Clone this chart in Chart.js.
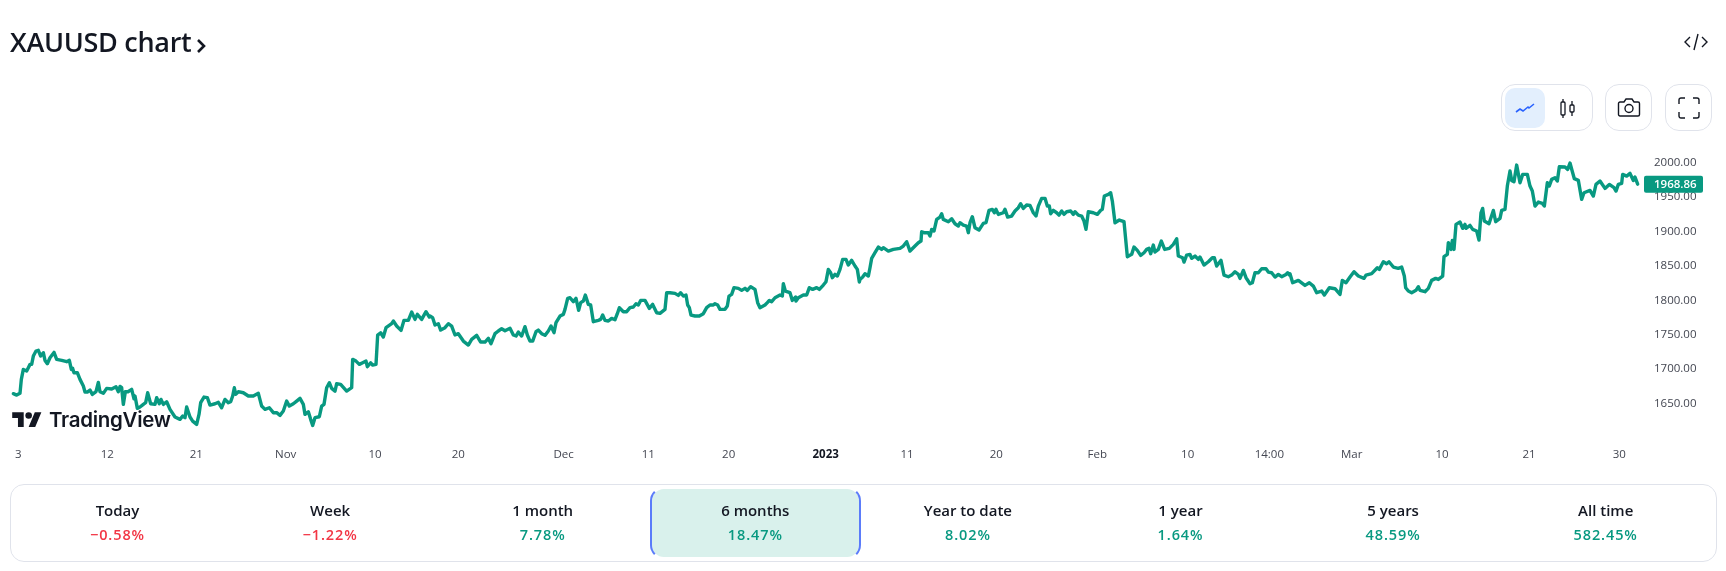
<!DOCTYPE html>
<html lang="en">
<head>
<meta charset="utf-8">
<title>XAUUSD chart</title>
<script src="https://cdn.jsdelivr.net/npm/chart.js@4/dist/chart.umd.min.js"></script>
<style>
  html, body { margin: 0; padding: 0; background: #fff; }
  body { position: relative; width: 1726px; height: 571px; overflow: hidden; font-family: 'Open Sans', sans-serif; color: #131722; }
  #chart { position: absolute; left: 0; top: 0; }
  .title { position: absolute; left: 10px; top: 23px; font-size: 27px; line-height: 38px; font-weight: 600; letter-spacing: -.3px; white-space: nowrap; }
  .chev { position: absolute; left: 195px; top: 37px; }
  .embed { position: absolute; left: 1684px; top: 32px; }
  .btn { position: absolute; top: 84px; height: 45px; box-sizing: content-box; border: 1px solid #e0e3eb; border-radius: 14px; }
  .btn svg { position: absolute; }
  .on { position: absolute; left: 3px; top: 3px; width: 40px; height: 40px; border-radius: 10px; background: #e3effd; }
  .logo { position: absolute; left: 12px; top: 409px; white-space: nowrap; }
  .logo svg { position: absolute; left: 0; top: 0; }
  .logo span { position: absolute; left: 37px; top: -3px; font-family: Inter, sans-serif; font-weight: 600; font-size: 20.5px; line-height: 28px; letter-spacing: -.3px; color: #131722; }
  .stats { position: absolute; left: 10px; top: 484px; width: 1705px; height: 76px; box-sizing: content-box; border: 1px solid #e0e3eb; border-radius: 14px; }
  .cell { position: absolute; top: 2px; width: 211px; height: 72px; box-sizing: border-box; text-align: center; }
  .cell.sel { border: 2px solid transparent; border-left-color: #5b7cfa; border-right-color: #5b7cfa; border-radius: 14px; background: #d9f1ec; background-clip: padding-box; }
  .cell b { position: absolute; left: 0; right: 0; top: 13px; font-size: 15px; line-height: 20px; font-weight: 600; }
  .cell i { position: absolute; left: 0; right: 0; top: 38px; font-style: normal; font-size: 14.5px; line-height: 20px; font-weight: 600; letter-spacing: .9px; }
  .cell.sel b { top: 11px; }
  .cell.sel i { top: 36px; }
  .up { color: #089981; }
  .down { color: #f23645; }
</style>
</head>
<body>
<canvas id="chart" width="1726" height="571"></canvas>

<div class="title">XAUUSD chart</div>
<svg class="chev" width="12" height="18" viewBox="0 0 12 18"><path d="M3 3l6 6-6 6" fill="none" stroke="#131722" stroke-width="2.6"/></svg>
<svg class="embed" width="24" height="20" viewBox="0 0 24 20" fill="none" stroke="#131722" stroke-width="1.4"><path d="M6 5l-5 5 5 5M18 5l5 5-5 5M14 2l-4 16"/></svg>

<div class="btn" style="left:1501px;width:90px">
  <div class="on"></div>
  <svg style="left:13px;top:13px" width="20" height="20" viewBox="0 0 20 20" fill="none" stroke="#2962ff" stroke-width="1.6"><path d="M1 14l4-3 3 2 5-4 1 1 5-4"/></svg>
  <svg style="left:57px;top:13px" width="20" height="20" viewBox="0 0 20 20" fill="none" stroke="#131722" stroke-width="1.3"><rect x="2" y="4" width="4" height="13" rx="1"/><path d="M4 1v3M4 17v3"/><rect x="11" y="7" width="4" height="7" rx="1"/><path d="M13 3v4M13 14v4"/></svg>
</div>
<div class="btn" style="left:1605px;width:45px">
  <svg style="left:11px;top:12px" width="24" height="22" viewBox="0 0 24 22" fill="none" stroke="#131722" stroke-width="1.4"><path d="M3 5h4l2-3h6l2 3h4a1.5 1.5 0 0 1 1.5 1.5v11a1.500 1.500 0 0 1-1.500 1.500H3a1.500 1.500 0 0 1-1.500-1.500v-11A1.500 1.500 0 0 1 3 5z"/><circle cx="12" cy="11.500" r="4"/></svg>
</div>
<div class="btn" style="left:1665px;width:45px">
  <svg style="left:12px;top:12px" width="22" height="22" viewBox="0 0 22 22" fill="none" stroke="#131722" stroke-width="1.4"><path d="M1 7V3a2 2 0 0 1 2-2h4M15 1h4a2 2 0 0 1 2 2v4M21 15v4a2 2 0 0 1-2 2h-4M7 21H3a2 2 0 0 1-2-2v-4"/></svg>
</div>

<div class="logo">
  <svg width="30" height="23" viewBox="0 0 36 28" fill="#131722"><path d="M14 22H7V11H0V4h14v18zM28 22h-8l7.500-18h8L28 22z"/><circle cx="20" cy="8" r="4"/></svg>
  <span>TradingView</span>
</div>

<div class="stats" id="stats"></div>

<script>
// Faixas do painel inferior
const periodLabels = ['Today', 'Week', '1 month', '6 months', 'Year to date', '1 year', '5 years', 'All time'];
const periodValues = ['\u22120.58%', '\u22121.22%', '7.78%', '18.47%', '8.02%', '1.64%', '48.59%', '582.45%'];
const selectedPeriod = '6 months';

// Eixos
const priceTicks = [1650, 1700, 1750, 1800, 1850, 1900, 1950, 2000];
const timeTickBars = [55, 322, 589, 857, 1125, 1375, 1691, 1945, 2186, 2477, 2721, 2989, 3292, 3563, 3808, 4055, 4326, 4587, 4858];
const timeTickLabels = ['3', '12', '21', 'Nov', '10', '20', 'Dec', '11', '20', '2023', '11', '20', 'Feb', '10', '14:00', 'Mar', '10', '21', '30'];
const lastPrice = 1968.86;

const barsOct = [40, 50, 60, 64, 70, 80, 85, 90, 95, 100, 108, 115, 122, 130, 135, 142, 150, 162, 170, 185, 200, 208, 214, 218, 222, 232, 240, 250, 255, 262, 270, 277, 288, 295, 300, 310, 320, 335, 348, 355, 360, 365, 370, 376, 384, 395, 402, 405, 412, 420, 430, 437, 443, 452, 465, 470, 478, 483, 490, 500, 510, 525, 540, 548, 555, 560, 570, 578, 590, 597, 602, 612, 622, 630, 645, 655, 665, 675, 685, 692, 698, 703, 707, 715, 730, 745, 760, 775, 785, 795, 808, 820, 830, 840, 850, 860, 868, 880, 890, 900, 910, 915, 925, 932, 938, 945, 958, 965, 972, 980, 988, 995, 1005, 1010, 1022, 1040, 1055, 1058, 1068, 1078, 1088, 1098, 1102, 1112, 1118, 1128, 1133, 1142, 1150, 1158, 1175, 1180, 1190, 1203, 1212, 1225, 1235, 1245, 1252, 1265, 1278, 1288];
const pricesOct = [1664.3, 1662.3, 1664.8, 1685.1, 1699.6, 1697.2, 1702.1, 1706.9, 1706.9, 1719, 1726.3, 1727.3, 1719, 1723.9, 1712.7, 1707.9, 1716.6, 1724.3, 1714.2, 1712.7, 1710.8, 1712.7, 1699.6, 1701.1, 1694.8, 1694.8, 1685.1, 1675.4, 1666.7, 1666.7, 1669.6, 1663.3, 1667.2, 1680.7, 1667.2, 1664.8, 1672, 1671.1, 1674.4, 1667.2, 1674.9, 1673, 1648.8, 1667.2, 1667.2, 1670.6, 1657, 1660.9, 1643, 1644.9, 1648.8, 1651.2, 1665.7, 1649.7, 1648.8, 1658.5, 1649.7, 1656, 1648.8, 1652.6, 1641.5, 1630.4, 1627, 1631.8, 1629.4, 1644.9, 1630.4, 1624.5, 1619.7, 1634.2, 1651.2, 1659.4, 1658.5, 1647.8, 1649.7, 1651.7, 1643.9, 1656, 1651.2, 1652.6, 1660.9, 1673, 1663.3, 1667.2, 1665.7, 1660.9, 1660.9, 1664.8, 1646.3, 1641.5, 1643.9, 1636.7, 1636.7, 1632.8, 1639.1, 1653.6, 1646.3, 1649.7, 1653.6, 1657.5, 1648.8, 1634.2, 1638.1, 1627, 1618.2, 1629.4, 1630.8, 1646.3, 1648.8, 1673, 1680.3, 1672, 1668.1, 1678.8, 1677.8, 1668.1, 1673, 1714.2, 1711.7, 1706.9, 1709.3, 1711.7, 1703.5, 1709.3, 1705.9, 1706.9, 1749.5, 1752.9, 1746.6, 1760.2, 1766, 1769.9, 1762.6, 1756.3, 1770.9, 1770.9, 1783, 1772.3, 1779.6, 1772.3, 1783.5, 1775.7];

const barsDec = [1290, 1298, 1305, 1315, 1322, 1335, 1345, 1355, 1365, 1375, 1390, 1405, 1415, 1430, 1442, 1455, 1465, 1473, 1485, 1495, 1505, 1515, 1530, 1540, 1548, 1555, 1565, 1575, 1582, 1590, 1598, 1608, 1615, 1625, 1635, 1645, 1653, 1662, 1668, 1680, 1690, 1695, 1703, 1710, 1720, 1728, 1736, 1742, 1750, 1756, 1765, 1772, 1780, 1795, 1802, 1808, 1815, 1825, 1835, 1845, 1852, 1858, 1870, 1880, 1890, 1900, 1908, 1915, 1922, 1935, 1948, 1958, 1970, 1980, 1995, 2000, 2010, 2025, 2035, 2042, 2050, 2058, 2063, 2068, 2073, 2085, 2098, 2110, 2120, 2130, 2140, 2145, 2153, 2160, 2175, 2182, 2187, 2195, 2202, 2215, 2225, 2235, 2242, 2252, 2265, 2273, 2280, 2295, 2302, 2308, 2315, 2325, 2340, 2347, 2350, 2356, 2370, 2377, 2387, 2388, 2395, 2410, 2420, 2428, 2438, 2450, 2458, 2470, 2478, 2485, 2492, 2497, 2505, 2512, 2520, 2528, 2538, 2545, 2555, 2565, 2572, 2578];
const pricesDec = [1777.2, 1774.8, 1764.1, 1766, 1756.8, 1760.2, 1766, 1762.6, 1749.6, 1751.5, 1740.8, 1735, 1743.3, 1749.1, 1739.4, 1739.4, 1744.7, 1737, 1751.5, 1755.4, 1758.8, 1755.9, 1759.3, 1749.6, 1748.1, 1753.9, 1748.1, 1761.7, 1749.6, 1740.8, 1740.8, 1754.4, 1756.8, 1751.5, 1749.1, 1755.4, 1762.6, 1753, 1767.5, 1777.2, 1779.6, 1786.9, 1802.9, 1803.8, 1798, 1802.9, 1785.4, 1796.6, 1799, 1807.7, 1794.1, 1793.2, 1768.9, 1770.9, 1772.3, 1778.6, 1770.9, 1769.9, 1773.8, 1771.8, 1780.6, 1789.3, 1783.5, 1783.5, 1789.3, 1790.3, 1795.1, 1793.2, 1799.9, 1799.9, 1788.3, 1794.1, 1782, 1781.1, 1786.9, 1811.1, 1811.1, 1810.1, 1807.2, 1811.1, 1806.2, 1807.7, 1793.2, 1789.3, 1778.6, 1777.2, 1777.2, 1780.6, 1789.3, 1793.2, 1793.2, 1795.1, 1793.2, 1786.9, 1786.9, 1791.7, 1806.2, 1808.7, 1818.4, 1817.4, 1814.5, 1817.4, 1814.5, 1819.8, 1815.9, 1796.6, 1789.3, 1793.2, 1796.6, 1799.9, 1798, 1803.8, 1807.7, 1806.2, 1824.2, 1813.5, 1811.1, 1799.9, 1804.8, 1799, 1803.8, 1807.7, 1807.7, 1818.4, 1815.9, 1818.4, 1815.9, 1822.2, 1827.1, 1845, 1840.2, 1832.9, 1837.7, 1835.3, 1845, 1859.5, 1859.5, 1851.3, 1858.1, 1849.9, 1845, 1826.6];

const barsFeb = [2580, 2588, 2595, 2605, 2610, 2615, 2625, 2635, 2645, 2650, 2665, 2680, 2700, 2710, 2720, 2730, 2745, 2755, 2763, 2765, 2772, 2785, 2790, 2795, 2802, 2810, 2820, 2825, 2830, 2845, 2855, 2865, 2875, 2880, 2890, 2900, 2905, 2910, 2917, 2925, 2937, 2950, 2958, 2967, 2977, 2983, 2988, 2995, 3010, 3015, 3023, 3035, 3045, 3055, 3062, 3070, 3080, 3090, 3100, 3108, 3115, 3125, 3135, 3142, 3148, 3152, 3160, 3170, 3177, 3185, 3192, 3200, 3212, 3220, 3225, 3235, 3245, 3252, 3258, 3265, 3280, 3292, 3302, 3307, 3313, 3325, 3332, 3337, 3345, 3358, 3372, 3382, 3395, 3402, 3412, 3422, 3432, 3440, 3447, 3452, 3460, 3465, 3475, 3484, 3494, 3508, 3520, 3530, 3535, 3548, 3552, 3560, 3570, 3575, 3585, 3595, 3600, 3612, 3625, 3637, 3643, 3650, 3663, 3672, 3685, 3695, 3705, 3715, 3720, 3730, 3738, 3750, 3757, 3765, 3775, 3785, 3798, 3805, 3815, 3825, 3835, 3845, 3858, 3863, 3868];
const pricesFeb = [1830.4, 1833.8, 1838.7, 1835.3, 1847.4, 1861, 1869.2, 1877.4, 1874, 1876.5, 1871.6, 1874, 1875.5, 1878.9, 1885.2, 1871.6, 1878.9, 1883.7, 1886.2, 1899.7, 1898.3, 1898.3, 1893.4, 1903.1, 1900.7, 1917.6, 1921, 1925.9, 1917.6, 1914.3, 1918.6, 1911.3, 1908, 1912.8, 1909.4, 1908, 1898.3, 1912.8, 1921.5, 1905.5, 1902.1, 1911.8, 1912.8, 1930.7, 1932.2, 1927.3, 1932.2, 1924.9, 1927.3, 1932.2, 1921, 1922.5, 1929.8, 1934.6, 1940.4, 1933.6, 1938.5, 1938, 1927.3, 1922.5, 1937, 1948.2, 1948.2, 1937, 1937, 1925.9, 1930.7, 1927.3, 1923.9, 1929.8, 1924.9, 1928.8, 1929.8, 1924.9, 1928.8, 1923.9, 1922.5, 1915.2, 1903.1, 1928.8, 1927.3, 1924.9, 1930.7, 1932.2, 1951.6, 1954, 1956.4, 1944.3, 1912.8, 1916.7, 1914.3, 1863.4, 1866.8, 1877.4, 1872.6, 1865.3, 1869.2, 1874, 1875.5, 1867.7, 1880.3, 1870.2, 1874, 1886.2, 1874, 1875.5, 1881.3, 1889.5, 1864.4, 1861.9, 1855.6, 1865.8, 1866.8, 1861, 1864.4, 1859.5, 1862.9, 1851.3, 1856.1, 1861.9, 1861.9, 1849.8, 1858.1, 1836.7, 1834.3, 1836.7, 1841.6, 1837.7, 1831.9, 1843.5, 1832.9, 1824.1, 1825.6, 1840.1, 1840.1, 1845.9, 1845.9, 1841.1, 1840.1, 1833.8, 1837.7, 1834.3, 1837.7, 1840.1, 1836.7];

const barsMar = [3870, 3878, 3895, 3915, 3928, 3940, 3950, 3965, 3973, 3988, 4005, 4020, 4027, 4038, 4050, 4062, 4075, 4092, 4098, 4115, 4132, 4138, 4150, 4160, 4167, 4180, 4195, 4205, 4213, 4217, 4225, 4235, 4248, 4255, 4260, 4275, 4285, 4295, 4307, 4315, 4328, 4332, 4342, 4345, 4353, 4357, 4362, 4368, 4380, 4388, 4395, 4398, 4410, 4418, 4430, 4437, 4443, 4448, 4453, 4467, 4480, 4487, 4500, 4505, 4515, 4522, 4530, 4535, 4542, 4550, 4560, 4568, 4582, 4590, 4597, 4605, 4615, 4627, 4633, 4642, 4648, 4655, 4665, 4672, 4678, 4695, 4703, 4710, 4718, 4723, 4735, 4745, 4752, 4770, 4780, 4788, 4800, 4815, 4828, 4842, 4848, 4855, 4865, 4868, 4880, 4890, 4900, 4905, 4913];
const pricesMar = [1838.7, 1825.6, 1829, 1821.7, 1825.6, 1820.7, 1811.1, 1813.5, 1807.7, 1818.3, 1816.9, 1808.6, 1829, 1825.6, 1833.8, 1841.6, 1835.3, 1831.9, 1836.7, 1838.7, 1847.4, 1845, 1856.1, 1853.2, 1856.1, 1848.4, 1846.4, 1848.4, 1835.3, 1818.3, 1813.5, 1811.1, 1814.5, 1819.8, 1814.5, 1812.5, 1817.4, 1829, 1831.9, 1830.4, 1835.3, 1863.4, 1866.8, 1883.7, 1874, 1887.1, 1874, 1910.4, 1913.8, 1904.6, 1910.4, 1904.6, 1908.9, 1903.1, 1900.7, 1887.6, 1927.3, 1933.6, 1915.2, 1911.3, 1930.7, 1914.3, 1919.1, 1930.7, 1932.2, 1966.1, 1987.9, 1974.3, 1972.4, 1996.6, 1970.9, 1983, 1983, 1966.1, 1958.8, 1937, 1942.8, 1940.9, 1937, 1970.9, 1966.1, 1975.8, 1978.2, 1973.4, 1994.2, 1993.7, 1990.3, 1999.5, 1985.5, 1976.8, 1974.3, 1946.7, 1956.4, 1959.8, 1951.6, 1968.5, 1973.4, 1962.7, 1968.5, 1963.7, 1958.8, 1968.5, 1970, 1983, 1980.6, 1984.5, 1974.3, 1979.2, 1968.86];

document.getElementById('stats').innerHTML = periodLabels.map((lbl, i) => {
  const v = periodValues[i];
  const cls = v.startsWith('\u2212') ? 'down' : 'up';
  const sel = lbl === selectedPeriod ? ' sel' : '';
  return `<div class="cell${sel}" style="left:${(1 + i * 212.6).toFixed(1)}px"><b>${lbl}</b><i class="${cls}">${v}</i></div>`;
}).join('');

const TEAL = '#089981';
const AXIS_FONT = "'Open Sans', sans-serif";

// etiqueta do ultimo preco sobre o eixo direito
const lastPriceTag = {
  id: 'lastPriceTag',
  afterDraw(chart) {
    const { ctx, scales: { y } } = chart;
    const py = y.getPixelForValue(lastPrice);
    ctx.save();
    ctx.fillStyle = TEAL;
    ctx.beginPath();
    ctx.roundRect(y.left + 2, py - 8.5, 59, 17, 2);
    ctx.fill();
    ctx.fillStyle = '#fff';
    ctx.font = `600 11.5px ${AXIS_FONT}`;
    ctx.textAlign = 'left';
    ctx.textBaseline = 'middle';
    ctx.fillText(lastPrice.toFixed(2), y.left + 12, py + 0.5);
    ctx.restore();
  },
};

new Chart(document.getElementById('chart'), {
  type: 'line',
  data: {
    datasets: [{
      data: [
        ...barsOct.map((b, i) => ({ x: b, y: pricesOct[i] })),
        ...barsDec.map((b, i) => ({ x: b, y: pricesDec[i] })),
        ...barsFeb.map((b, i) => ({ x: b, y: pricesFeb[i] })),
        ...barsMar.map((b, i) => ({ x: b, y: pricesMar[i] })),
      ],
      borderColor: TEAL,
      borderWidth: 3.4,
      pointRadius: 0,
      tension: 0,
      borderJoinStyle: 'round',
      borderCapStyle: 'round',
      parsing: false,
    }],
  },
  options: {
    responsive: false,
    animation: false,
    layout: { padding: { top: 133, left: 0, right: 0, bottom: 0 } },
    plugins: { legend: { display: false }, tooltip: { enabled: false } },
    scales: {
      x: {
        type: 'linear',
        min: 0,
        max: 4926,
        grid: { display: false, drawTicks: false },
        border: { display: false },
        afterBuildTicks: (s) => { s.ticks = timeTickBars.map((value) => ({ value })); },
        afterFit: (s) => { s.height = 131; },
        ticks: {
          autoSkip: false,
          maxRotation: 0,
          padding: 8,
          color: (c) => (timeTickLabels[c.index] === '2023' ? '#131722' : '#434651'),
          font: (c) => ({ family: AXIS_FONT, size: 11.5, weight: timeTickLabels[c.index] === '2023' ? '700' : '400' }),
          callback: (v, i) => timeTickLabels[i],
        },
      },
      y: {
        position: 'right',
        min: 1597,
        max: 2043.2,
        grid: { display: false, drawTicks: false },
        border: { display: false },
        afterBuildTicks: (s) => { s.ticks = priceTicks.map((value) => ({ value })); },
        afterFit: (s) => { s.width = 84; },
        ticks: {
          padding: 12,
          color: '#434651',
          font: { family: AXIS_FONT, size: 11.5 },
          callback: (v) => Number(v).toFixed(2),
        },
      },
    },
  },
  plugins: [lastPriceTag],
});
</script>
</body>
</html>
